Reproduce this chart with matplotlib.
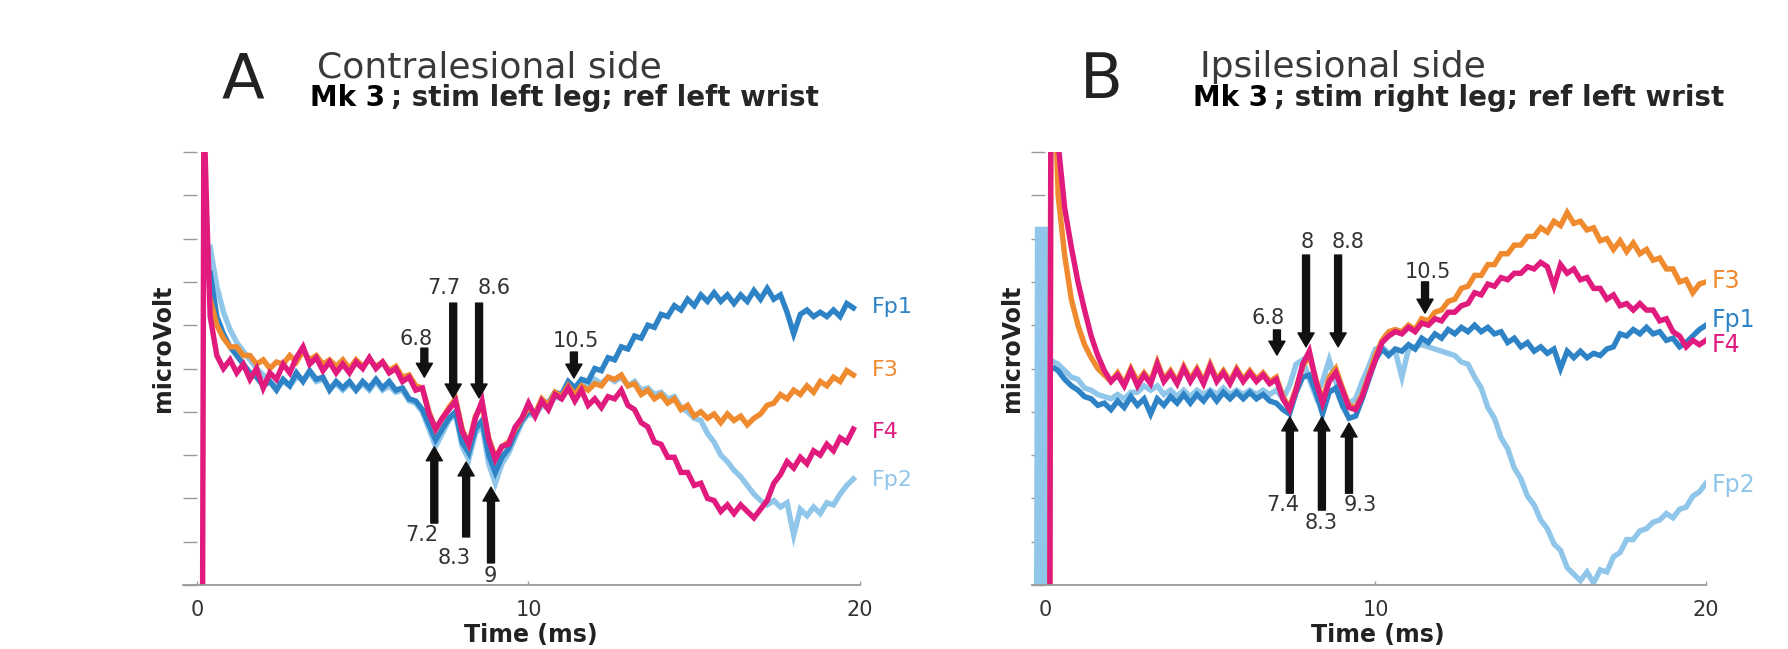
import numpy as np
import matplotlib
matplotlib.use("Agg")
import matplotlib.pyplot as plt

plt.rcParams['font.family'] = ['DejaVu Sans']

# ---------------- data ----------------
CHANNELS = ["Fp1", "Fp2", "F3", "F4"]
COLORS = {"Fp1": "#2d83c6", "Fp2": "#8fc6ea", "F3": "#f08a2e", "F4": "#e01b7d"}
XTICKS = [0, 10, 20]
XTICK_LABELS = ["0", "10", "20"]

# Panel A : contralesional side (time grid 0.4 ... 19.8 ms, step 0.2)
TIME_A = np.round(np.arange(0.4, 19.81, 0.2), 2)
A_F4 = [6.2, 5.3, 5.0, 5.2, 4.9, 5.1, 4.75, 5.0, 4.55, 4.9,
        4.75, 5.1, 4.9, 5.25, 5.5, 5.1, 5.25, 4.95, 5.15, 4.9,
        5.1, 4.9, 5.15, 5.0, 5.25, 5.0, 5.15, 4.9, 5.0, 4.7,
        4.8, 4.5, 4.55, 3.95, 3.6, 3.85, 4.05, 4.25, 3.55, 3.25,
        3.85, 4.25, 3.35, 2.9, 3.2, 3.25, 3.65, 3.85, 4.2, 3.9,
        4.25, 4.05, 4.4, 4.3, 4.55, 4.25, 4.5, 4.15, 4.3, 4.1,
        4.35, 4.3, 4.5, 4.15, 4.05, 3.75, 3.65, 3.3, 3.25, 2.95,
        2.95, 2.6, 2.6, 2.3, 2.35, 2.0, 1.95, 1.7, 1.85, 1.65,
        1.85, 1.7, 1.55, 1.75, 1.95, 2.35, 2.55, 2.85, 2.7, 2.95,
        2.8, 3.1, 3.0, 3.25, 3.1, 3.4, 3.3, 3.6]
A_F3 = [6.6, 6.0, 5.7, 5.5, 5.5, 5.3, 5.3, 5.1, 5.2, 5.0,
        5.15, 5.1, 5.3, 5.15, 5.4, 5.2, 5.3, 5.1, 5.2, 5.05,
        5.2, 5.0, 5.2, 5.05, 5.2, 5.05, 5.15, 4.95, 5.05, 4.8,
        4.85, 4.6, 4.55, 4.0, 3.6, 3.85, 4.1, 4.3, 3.6, 3.25,
        3.9, 4.15, 3.4, 2.95, 3.2, 3.3, 3.6, 3.85, 4.1, 3.95,
        4.3, 4.15, 4.45, 4.35, 4.6, 4.4, 4.6, 4.5, 4.65, 4.6,
        4.8, 4.75, 4.85, 4.6, 4.65, 4.4, 4.5, 4.3, 4.4, 4.2,
        4.3, 4.05, 4.15, 3.9, 4.0, 3.85, 3.95, 3.75, 3.95, 3.8,
        3.9, 3.7, 3.85, 3.95, 4.15, 4.2, 4.4, 4.3, 4.5, 4.4,
        4.6, 4.45, 4.7, 4.6, 4.8, 4.7, 4.95, 4.85]
A_FP1 = [7.2, 6.2, 5.8, 5.5, 5.3, 5.1, 4.9, 4.8, 4.6, 4.7,
         4.5, 4.75, 4.6, 4.9, 4.7, 4.95, 4.75, 4.8, 4.5, 4.7,
         4.55, 4.7, 4.5, 4.7, 4.55, 4.75, 4.55, 4.7, 4.5, 4.55,
         4.3, 4.25, 4.05, 3.7, 3.35, 3.6, 3.85, 4.0, 3.3, 3.05,
         3.6, 3.8, 3.0, 2.6, 2.95, 3.15, 3.5, 3.8, 4.0, 3.95,
         4.25, 4.2, 4.45, 4.4, 4.7, 4.55, 4.75, 4.7, 5.0, 4.95,
         5.25, 5.2, 5.5, 5.45, 5.75, 5.7, 6.0, 5.95, 6.25, 6.2,
         6.45, 6.35, 6.6, 6.45, 6.7, 6.55, 6.75, 6.55, 6.7, 6.5,
         6.7, 6.55, 6.8, 6.6, 6.85, 6.6, 6.7, 6.3, 5.8, 6.25,
         6.35, 6.2, 6.3, 6.2, 6.35, 6.2, 6.5, 6.4]
A_FP2 = [7.8, 6.9, 6.3, 5.9, 5.6, 5.4, 5.2, 5.0, 4.85, 4.7,
         4.6, 4.7, 4.6, 4.8, 4.75, 4.9, 4.7, 4.75, 4.55, 4.65,
         4.5, 4.65, 4.5, 4.65, 4.5, 4.7, 4.5, 4.6, 4.45, 4.5,
         4.25, 4.2, 4.0, 3.6, 3.2, 3.5, 3.8, 3.95, 3.2, 2.9,
         3.5, 3.7, 2.8, 2.35, 2.8, 3.05, 3.4, 3.75, 3.95, 3.9,
         4.15, 4.1, 4.35, 4.3, 4.55, 4.45, 4.7, 4.6, 4.75, 4.65,
         4.8, 4.7, 4.8, 4.6, 4.7, 4.5, 4.55, 4.4, 4.45, 4.3,
         4.35, 4.1, 4.0, 3.85, 3.8, 3.5, 3.3, 3.0, 2.85, 2.65,
         2.5, 2.3, 2.1, 1.95, 1.85, 1.95, 1.8, 1.9, 1.15, 1.75,
         1.6, 1.8, 1.65, 1.9, 1.85, 2.1, 2.3, 2.45]
# stimulus artefact (start of the F4 trace in A)
A_F4_START_T = [0.17, 0.21, 0.3]
A_F4_START_V = [-0.5, 11.0, 8.5]

# Panel B : ipsilesional side (time grid 0.4 ... 20.0 ms, step 0.2)
TIME_B = np.round(np.arange(0.4, 20.01, 0.2), 2)
B_F4 = [10.2, 8.7, 7.8, 7.0, 6.35, 5.75, 5.3, 4.95, 4.7, 4.85,
        4.6, 4.95, 4.6, 4.85, 4.65, 5.1, 4.7, 4.9, 4.65, 5.0,
        4.7, 4.95, 4.65, 5.05, 4.7, 4.9, 4.65, 4.95, 4.7, 4.9,
        4.7, 4.85, 4.65, 4.75, 4.3, 4.05, 4.5, 5.1, 5.4, 4.7,
        4.2, 4.7, 4.9, 4.5, 4.1, 4.05, 4.35, 4.8, 5.2, 5.6,
        5.75, 5.85, 5.8, 5.95, 5.85, 6.05, 6.0, 6.15, 6.1, 6.3,
        6.3, 6.45, 6.5, 6.75, 6.7, 6.95, 6.9, 7.1, 7.05, 7.2,
        7.2, 7.35, 7.3, 7.45, 7.35, 6.9, 7.4, 7.2, 7.3, 7.05,
        7.1, 6.85, 6.85, 6.6, 6.7, 6.45, 6.5, 6.35, 6.5, 6.35,
        6.35, 6.1, 6.15, 5.85, 5.75, 5.5, 5.65, 5.55, 5.65]
B_F3 = [9.0, 7.6, 6.6, 6.0, 5.55, 5.25, 5.0, 4.85, 4.7, 4.9,
        4.65, 5.0, 4.7, 4.9, 4.7, 5.15, 4.75, 4.95, 4.7, 5.05,
        4.75, 5.0, 4.7, 5.1, 4.75, 4.95, 4.7, 5.0, 4.75, 4.95,
        4.75, 4.9, 4.7, 4.8, 4.35, 4.1, 4.55, 5.05, 5.3, 4.75,
        4.25, 4.8, 5.0, 4.55, 4.15, 4.1, 4.4, 4.85, 5.3, 5.65,
        5.85, 5.9, 5.85, 6.0, 5.9, 6.15, 6.1, 6.3, 6.35, 6.55,
        6.6, 6.85, 6.9, 7.15, 7.15, 7.4, 7.4, 7.65, 7.65, 7.85,
        7.85, 8.05, 8.05, 8.25, 8.15, 8.4, 8.3, 8.6, 8.35, 8.4,
        8.2, 8.25, 7.95, 8.0, 7.75, 7.95, 7.7, 7.9, 7.65, 7.75,
        7.5, 7.55, 7.3, 7.3, 7.0, 7.05, 6.75, 6.95, 7.0]
B_FP1 = [4.95, 4.75, 4.6, 4.5, 4.35, 4.3, 4.15, 4.2, 4.05, 4.25,
         4.1, 4.35, 4.15, 4.3, 3.95, 4.3, 4.15, 4.35, 4.2, 4.4,
         4.2, 4.4, 4.25, 4.45, 4.25, 4.45, 4.3, 4.45, 4.3, 4.45,
         4.3, 4.4, 4.25, 4.2, 4.05, 3.95, 4.45, 4.8, 4.85, 4.45,
         3.95, 4.45, 4.55, 4.15, 3.85, 3.9, 4.3, 4.75, 5.2, 5.45,
         5.3, 5.45, 5.4, 5.55, 5.45, 5.7, 5.6, 5.8, 5.7, 5.9,
         5.8, 5.95, 5.85, 6.0, 5.85, 5.95, 5.8, 5.85, 5.6, 5.7,
         5.5, 5.6, 5.4, 5.5, 5.35, 5.45, 5.0, 5.4, 5.25, 5.4,
         5.25, 5.35, 5.3, 5.45, 5.5, 5.8, 5.75, 5.9, 5.8, 5.95,
         5.8, 5.85, 5.65, 5.7, 5.5, 5.6, 5.75, 5.9, 6.0]
B_FP2 = [5.1, 4.95, 4.8, 4.75, 4.55, 4.5, 4.4, 4.35, 4.3, 4.4,
         4.3, 4.45, 4.45, 4.6, 4.5, 4.6, 4.4, 4.5, 4.35, 4.5,
         4.35, 4.5, 4.4, 4.5, 4.4, 4.55, 4.4, 4.5, 4.4, 4.5,
         4.4, 4.5, 4.4, 4.5, 4.3, 4.6, 5.1, 5.2, 4.75, 4.35,
         4.7, 5.2, 4.7, 4.15, 4.2, 4.3, 4.7, 5.05, 5.45, 5.5,
         5.35, 5.4, 4.8, 5.45, 5.5, 5.55, 5.5, 5.45, 5.4, 5.35,
         5.3, 5.15, 5.1, 4.8, 4.55, 4.1, 3.85, 3.4, 3.15, 2.7,
         2.45, 2.05, 1.85, 1.5, 1.3, 0.95, 0.8, 0.4, 0.25, 0.1,
         0.3, 0.05, 0.35, 0.3, 0.65, 0.75, 1.05, 1.05, 1.25, 1.3,
         1.45, 1.5, 1.65, 1.55, 1.75, 1.8, 2.05, 2.15, 2.35]
# stimulus artefacts at the start of the B traces
B_F4_START_T = [0.15, 0.18, 0.38]
B_F4_START_V = [-0.5, 11.0, 11.0]
B_F3_START_T = [0.15, 0.18, 0.36]
B_F3_START_V = [-0.5, 11.0, 10.0]
B_FP1_START_T = [0.3]
B_FP1_START_V = [5.0]
B_FP2_START_T = [-0.25, -0.22, -0.17, -0.12, -0.07, -0.02, 0.03, 0.07, 0.1, 0.14]
B_FP2_START_V = [-1, 8.27, -1, 8.27, -1, 8.27, -1, 8.27, -1, 5.2]

# latency arrows: (label, time, tip value, tail value, label time, label value)
A_DOWN = [("6.8", 6.86, 4.80, 5.47, 6.62, 5.68),
          ("7.7", 7.73, 4.32, 6.51, 7.46, 6.86),
          ("8.6", 8.51, 4.32, 6.51, 8.96, 6.86),
          ("10.5", 11.37, 4.78, 5.38, 11.43, 5.64)]
A_UP = [("7.2", 7.16, 3.19, 1.43, 6.77, 1.15),
        ("8.3", 8.12, 2.84, 1.11, 7.76, 0.62),
        ("9", 8.87, 2.26, 0.51, 8.84, 0.21)]
B_DOWN = [("6.8", 7.02, 5.31, 5.89, 6.75, 6.17),
          ("8", 7.90, 5.50, 7.62, 7.93, 7.92),
          ("8.8", 8.87, 5.50, 7.62, 9.17, 7.92),
          ("10.5", 11.50, 6.28, 7.00, 11.59, 7.23)]
B_UP = [("7.4", 7.41, 3.88, 2.12, 7.20, 1.85),
        ("8.3", 8.38, 3.88, 1.73, 8.35, 1.43),
        ("9.3", 9.20, 3.74, 2.12, 9.53, 1.85)]

# channel labels at the right end: (name, value)
A_LABELS = [("Fp1", 6.42), ("F3", 4.97), ("F4", 3.53), ("Fp2", 2.42)]
B_LABELS = [("F3", 7.02), ("Fp1", 6.12), ("F4", 5.54), ("Fp2", 2.31)]

# ---------------- figure ----------------
W, H = 1788, 649
fig = plt.figure(figsize=(W / 100, H / 100), dpi=100)
fig.patch.set_facecolor("white")


def px_rect(left, right, top=152, bottom=585):
    return [left / W, 1 - bottom / H, (right - left) / W, (bottom - top) / H]


axA = fig.add_axes(px_rect(183, 860))
axB = fig.add_axes(px_rect(1032, 1706))

GREY = "#9a9a9a"


def style(ax, xleft):
    ax.set_xlim(xleft, 20)
    ax.set_ylim(0, 10)
    for s in ("top", "right"):
        ax.spines[s].set_visible(False)
    ax.spines["left"].set_position(("data", 0))
    ax.spines["left"].set_color("none")
    ax.spines["bottom"].set_color(GREY)
    ax.spines["bottom"].set_linewidth(1.3)
    ax.set_yticks(range(0, 11))
    ax.set_yticklabels([])
    ax.tick_params(axis="y", direction="out", length=10, width=1.0, color=GREY)
    ax.set_xticks(XTICKS)
    ax.set_xticklabels(XTICK_LABELS)
    ax.tick_params(axis="x", direction="in", length=3, width=1.0, color=GREY,
                   pad=11, labelsize=15, labelcolor="#333333")
    ax.patch.set_alpha(0)


style(axA, -0.42)
style(axB, -0.39)

LW = 3.9


def trace(ax, t, v, ch, start_t=None, start_v=None):
    t = list(t)
    v = list(v)
    if start_t is not None:
        t = list(start_t) + t
        v = list(start_v) + v
    ax.plot(t, v, color=COLORS[ch], lw=LW, solid_joinstyle="miter")


# panel A traces (drawing order: Fp2, Fp1, F3, F4)
trace(axA, TIME_A, A_FP2, "Fp2")
trace(axA, TIME_A, A_FP1, "Fp1")
trace(axA, TIME_A, A_F3, "F3")
trace(axA, TIME_A, A_F4, "F4", A_F4_START_T, A_F4_START_V)

# panel B traces
trace(axB, TIME_B, B_FP2, "Fp2", B_FP2_START_T, B_FP2_START_V)
trace(axB, TIME_B, B_FP1, "Fp1", B_FP1_START_T, B_FP1_START_V)
trace(axB, TIME_B, B_F3, "F3", B_F3_START_T, B_F3_START_V)
trace(axB, TIME_B, B_F4, "F4", B_F4_START_T, B_F4_START_V)

ARROW = dict(arrowstyle="simple,head_length=0.5,head_width=0.58,tail_width=0.25",
             color="#111111", shrinkA=0, shrinkB=0, mutation_scale=20)


def arrows(ax, specs):
    for lab, t, tip, tail, lt, lv in specs:
        ax.annotate("", xy=(t, tip), xytext=(t, tail), arrowprops=ARROW,
                    annotation_clip=False)
        ax.text(lt, lv, lab, ha="center", va="center", fontsize=15,
                color="#333333", clip_on=False)


arrows(axA, A_DOWN + A_UP)
arrows(axB, B_DOWN + B_UP)

for name, val in A_LABELS:
    axA.text(20.35, val, name, ha="left", va="center", fontsize=16,
             color=COLORS[name], clip_on=False)
for name, val in B_LABELS:
    axB.text(20.18, val, name, ha="left", va="center", fontsize=17,
             color=COLORS[name], clip_on=False)


def fx(px):
    return px / W


def fy(py):
    return 1 - py / H


# panel letters, titles, subtitles
for letter, lx, title, tx, sub, sx in (
        ("A", 222, "Contralesional side", 317, "; stim left leg; ref left wrist", 310),
        ("B", 1080, "Ipsilesional side", 1200, "; stim right leg; ref left wrist", 1193)):
    fig.text(fx(lx), fy(98), letter, fontsize=45, color="#222222",
             ha="left", va="baseline")
    fig.text(fx(tx), fy(77), title, fontsize=26, color="#3a3a3a",
             ha="left", va="baseline")
    t1 = fig.text(fx(sx), fy(112), "Mk 3", fontsize=20, fontweight="bold",
                  color="black", ha="left", va="bottom")
    fig.canvas.draw()
    plt.annotate(sub, xy=(1, 0), xycoords=t1, xytext=(4, 0),
                 textcoords="offset points", fontsize=20, fontweight="bold",
                 color="#262626", ha="left", va="bottom",
                 annotation_clip=False)

# axis labels
for cx in (163, 1012):
    fig.text(fx(cx), fy(348), "microVolt", rotation=90, fontsize=17,
             fontweight="bold", color="#222222", ha="center", va="center")
for cx in (531, 1378):
    fig.text(fx(cx), fy(647), "Time (ms)", fontsize=17, fontweight="bold",
             color="#222222", ha="center", va="bottom")

fig.savefig("out.png", dpi=100, facecolor="white")
